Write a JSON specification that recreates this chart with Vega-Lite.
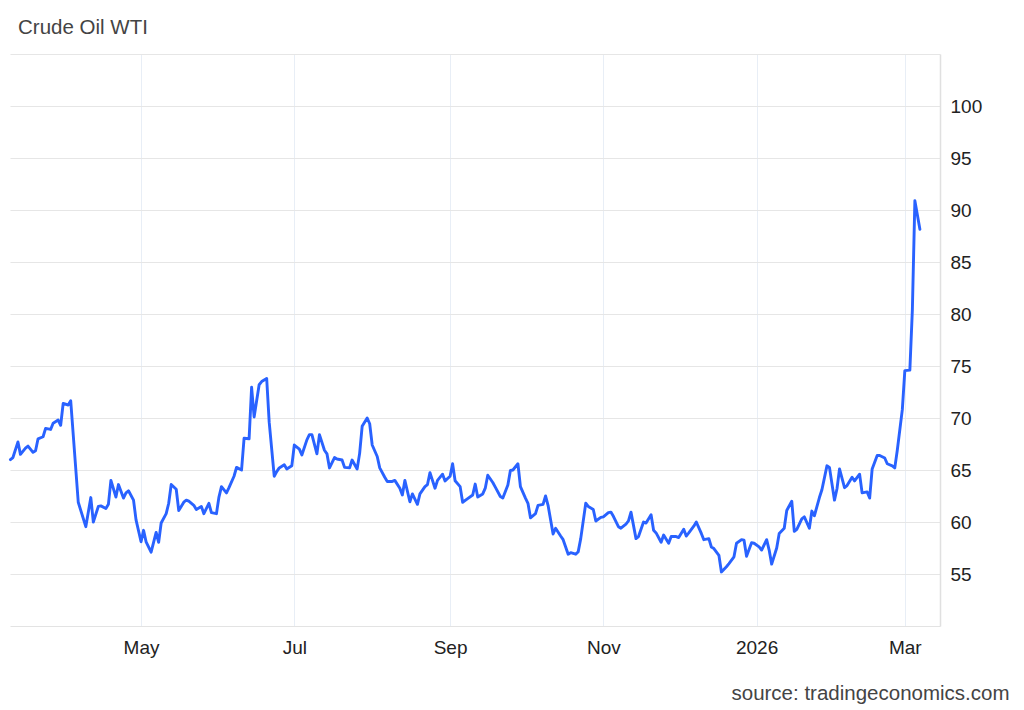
{
  "$schema": "https://vega.github.io/schema/vega-lite/v6.json",
  "width": 930,
  "height": 572,
  "autosize": {"type": "none"},
  "padding": {"left": 10, "top": 54, "right": 84, "bottom": 84},
  "background": "white",
  "config": {"view": {"stroke": null}, "font": "Liberation Sans"},
  "title": {"text": "Crude Oil WTI", "anchor": "start", "frame": "group", "dx": 8, "offset": 16, "fontSize": 20.5, "fontWeight": "normal", "color": "#444444", "font": "Liberation Sans"},
  "data": {"values": [
    {"date": "2025-03-10", "price": 66.0}, {"date": "2025-03-11", "price": 66.2}, {"date": "2025-03-13", "price": 67.7}, {"date": "2025-03-14", "price": 66.5},
    {"date": "2025-03-16", "price": 67.1}, {"date": "2025-03-17", "price": 67.3}, {"date": "2025-03-19", "price": 66.7}, {"date": "2025-03-20", "price": 66.85},
    {"date": "2025-03-21", "price": 68.0}, {"date": "2025-03-23", "price": 68.2}, {"date": "2025-03-24", "price": 69.0}, {"date": "2025-03-26", "price": 68.9},
    {"date": "2025-03-27", "price": 69.5}, {"date": "2025-03-29", "price": 69.8}, {"date": "2025-03-30", "price": 69.3}, {"date": "2025-03-31", "price": 71.4},
    {"date": "2025-04-02", "price": 71.25}, {"date": "2025-04-03", "price": 71.65}, {"date": "2025-04-06", "price": 61.9}, {"date": "2025-04-09", "price": 59.55},
    {"date": "2025-04-11", "price": 62.35}, {"date": "2025-04-12", "price": 60.0}, {"date": "2025-04-14", "price": 61.5}, {"date": "2025-04-15", "price": 61.55},
    {"date": "2025-04-17", "price": 61.3}, {"date": "2025-04-18", "price": 61.7}, {"date": "2025-04-19", "price": 64.0}, {"date": "2025-04-21", "price": 62.4},
    {"date": "2025-04-22", "price": 63.6}, {"date": "2025-04-24", "price": 62.3}, {"date": "2025-04-25", "price": 62.8}, {"date": "2025-04-26", "price": 63.0},
    {"date": "2025-04-28", "price": 62.1}, {"date": "2025-04-29", "price": 60.2}, {"date": "2025-05-01", "price": 58.1}, {"date": "2025-05-02", "price": 59.2},
    {"date": "2025-05-03", "price": 58.1}, {"date": "2025-05-05", "price": 57.1}, {"date": "2025-05-07", "price": 59.0}, {"date": "2025-05-08", "price": 58.05},
    {"date": "2025-05-09", "price": 59.9}, {"date": "2025-05-11", "price": 60.8}, {"date": "2025-05-12", "price": 61.8}, {"date": "2025-05-13", "price": 63.6},
    {"date": "2025-05-15", "price": 63.15}, {"date": "2025-05-16", "price": 61.1}, {"date": "2025-05-18", "price": 61.9}, {"date": "2025-05-19", "price": 62.1},
    {"date": "2025-05-20", "price": 62.0}, {"date": "2025-05-22", "price": 61.6}, {"date": "2025-05-23", "price": 61.2}, {"date": "2025-05-25", "price": 61.5},
    {"date": "2025-05-26", "price": 60.8}, {"date": "2025-05-28", "price": 61.8}, {"date": "2025-05-29", "price": 60.9}, {"date": "2025-05-31", "price": 60.8},
    {"date": "2025-06-01", "price": 62.4}, {"date": "2025-06-02", "price": 63.4}, {"date": "2025-06-04", "price": 62.8}, {"date": "2025-06-05", "price": 63.3},
    {"date": "2025-06-07", "price": 64.4}, {"date": "2025-06-08", "price": 65.25}, {"date": "2025-06-10", "price": 65.0}, {"date": "2025-06-11", "price": 68.05},
    {"date": "2025-06-13", "price": 68.0}, {"date": "2025-06-14", "price": 72.95}, {"date": "2025-06-15", "price": 70.1}, {"date": "2025-06-17", "price": 73.2},
    {"date": "2025-06-18", "price": 73.5}, {"date": "2025-06-20", "price": 73.8}, {"date": "2025-06-21", "price": 69.6}, {"date": "2025-06-23", "price": 64.4},
    {"date": "2025-06-24", "price": 64.85}, {"date": "2025-06-25", "price": 65.2}, {"date": "2025-06-27", "price": 65.5}, {"date": "2025-06-28", "price": 65.1},
    {"date": "2025-06-30", "price": 65.4}, {"date": "2025-07-01", "price": 67.4}, {"date": "2025-07-03", "price": 67.0}, {"date": "2025-07-04", "price": 66.45},
    {"date": "2025-07-06", "price": 67.9}, {"date": "2025-07-07", "price": 68.4}, {"date": "2025-07-08", "price": 68.4}, {"date": "2025-07-10", "price": 66.55},
    {"date": "2025-07-11", "price": 68.4}, {"date": "2025-07-13", "price": 66.9}, {"date": "2025-07-14", "price": 66.55}, {"date": "2025-07-15", "price": 65.2},
    {"date": "2025-07-17", "price": 66.2}, {"date": "2025-07-18", "price": 66.06}, {"date": "2025-07-20", "price": 65.96}, {"date": "2025-07-21", "price": 65.25},
    {"date": "2025-07-23", "price": 65.2}, {"date": "2025-07-24", "price": 65.96}, {"date": "2025-07-26", "price": 65.1}, {"date": "2025-07-27", "price": 66.6},
    {"date": "2025-07-28", "price": 69.2}, {"date": "2025-07-30", "price": 70.0}, {"date": "2025-07-31", "price": 69.45}, {"date": "2025-08-01", "price": 67.4},
    {"date": "2025-08-03", "price": 66.3}, {"date": "2025-08-04", "price": 65.2}, {"date": "2025-08-06", "price": 64.3}, {"date": "2025-08-07", "price": 63.9},
    {"date": "2025-08-09", "price": 63.9}, {"date": "2025-08-10", "price": 64.0}, {"date": "2025-08-12", "price": 63.25}, {"date": "2025-08-13", "price": 62.6},
    {"date": "2025-08-14", "price": 64.0}, {"date": "2025-08-16", "price": 61.95}, {"date": "2025-08-17", "price": 62.7}, {"date": "2025-08-19", "price": 61.7},
    {"date": "2025-08-20", "price": 62.7}, {"date": "2025-08-22", "price": 63.4}, {"date": "2025-08-23", "price": 63.6}, {"date": "2025-08-24", "price": 64.75},
    {"date": "2025-08-26", "price": 63.25}, {"date": "2025-08-27", "price": 64.0}, {"date": "2025-08-29", "price": 64.6}, {"date": "2025-08-30", "price": 63.95},
    {"date": "2025-09-01", "price": 64.4}, {"date": "2025-09-02", "price": 65.6}, {"date": "2025-09-03", "price": 63.97}, {"date": "2025-09-05", "price": 63.4},
    {"date": "2025-09-06", "price": 61.9}, {"date": "2025-09-08", "price": 62.25}, {"date": "2025-09-10", "price": 62.6}, {"date": "2025-09-11", "price": 63.65},
    {"date": "2025-09-12", "price": 62.4}, {"date": "2025-09-14", "price": 62.7}, {"date": "2025-09-15", "price": 63.25}, {"date": "2025-09-16", "price": 64.5},
    {"date": "2025-09-18", "price": 63.8}, {"date": "2025-09-19", "price": 63.35}, {"date": "2025-09-21", "price": 62.45}, {"date": "2025-09-22", "price": 62.3},
    {"date": "2025-09-24", "price": 63.55}, {"date": "2025-09-25", "price": 64.95}, {"date": "2025-09-26", "price": 65.0}, {"date": "2025-09-28", "price": 65.6},
    {"date": "2025-09-29", "price": 63.4}, {"date": "2025-10-01", "price": 62.3}, {"date": "2025-10-02", "price": 61.8}, {"date": "2025-10-03", "price": 60.4},
    {"date": "2025-10-05", "price": 60.8}, {"date": "2025-10-06", "price": 61.6}, {"date": "2025-10-08", "price": 61.7}, {"date": "2025-10-09", "price": 62.5},
    {"date": "2025-10-10", "price": 61.6}, {"date": "2025-10-12", "price": 58.85}, {"date": "2025-10-13", "price": 59.4}, {"date": "2025-10-15", "price": 58.65},
    {"date": "2025-10-16", "price": 58.3}, {"date": "2025-10-18", "price": 56.9}, {"date": "2025-10-19", "price": 57.05}, {"date": "2025-10-21", "price": 56.9},
    {"date": "2025-10-22", "price": 57.15}, {"date": "2025-10-23", "price": 58.4}, {"date": "2025-10-25", "price": 61.8}, {"date": "2025-10-26", "price": 61.5},
    {"date": "2025-10-28", "price": 61.2}, {"date": "2025-10-29", "price": 60.1}, {"date": "2025-10-31", "price": 60.45}, {"date": "2025-11-01", "price": 60.5},
    {"date": "2025-11-03", "price": 60.9}, {"date": "2025-11-04", "price": 60.95}, {"date": "2025-11-05", "price": 60.55}, {"date": "2025-11-07", "price": 59.55},
    {"date": "2025-11-08", "price": 59.4}, {"date": "2025-11-10", "price": 59.8}, {"date": "2025-11-11", "price": 60.1}, {"date": "2025-11-12", "price": 60.95},
    {"date": "2025-11-14", "price": 58.4}, {"date": "2025-11-15", "price": 58.6}, {"date": "2025-11-17", "price": 60.0}, {"date": "2025-11-18", "price": 59.9},
    {"date": "2025-11-20", "price": 60.7}, {"date": "2025-11-21", "price": 59.2}, {"date": "2025-11-22", "price": 58.95}, {"date": "2025-11-24", "price": 58.05},
    {"date": "2025-11-25", "price": 58.75}, {"date": "2025-11-27", "price": 57.96}, {"date": "2025-11-28", "price": 58.6}, {"date": "2025-11-30", "price": 58.6},
    {"date": "2025-12-01", "price": 58.5}, {"date": "2025-12-03", "price": 59.3}, {"date": "2025-12-04", "price": 58.65}, {"date": "2025-12-05", "price": 58.95},
    {"date": "2025-12-07", "price": 59.6}, {"date": "2025-12-08", "price": 60.0}, {"date": "2025-12-10", "price": 58.9}, {"date": "2025-12-11", "price": 58.3},
    {"date": "2025-12-13", "price": 58.4}, {"date": "2025-12-14", "price": 57.6}, {"date": "2025-12-15", "price": 57.45}, {"date": "2025-12-17", "price": 56.8},
    {"date": "2025-12-18", "price": 55.2}, {"date": "2025-12-20", "price": 55.7}, {"date": "2025-12-21", "price": 56.0}, {"date": "2025-12-23", "price": 56.65},
    {"date": "2025-12-24", "price": 57.96}, {"date": "2025-12-26", "price": 58.3}, {"date": "2025-12-27", "price": 58.25}, {"date": "2025-12-28", "price": 56.7},
    {"date": "2025-12-30", "price": 58.0}, {"date": "2025-12-31", "price": 57.96}, {"date": "2026-01-02", "price": 57.6}, {"date": "2026-01-03", "price": 57.3},
    {"date": "2026-01-05", "price": 58.3}, {"date": "2026-01-06", "price": 57.3}, {"date": "2026-01-07", "price": 55.95}, {"date": "2026-01-09", "price": 57.5},
    {"date": "2026-01-10", "price": 58.9}, {"date": "2026-01-12", "price": 59.4}, {"date": "2026-01-13", "price": 61.1}, {"date": "2026-01-15", "price": 62.0},
    {"date": "2026-01-16", "price": 59.1}, {"date": "2026-01-17", "price": 59.3}, {"date": "2026-01-19", "price": 60.3}, {"date": "2026-01-20", "price": 60.5},
    {"date": "2026-01-22", "price": 59.4}, {"date": "2026-01-23", "price": 61.05}, {"date": "2026-01-24", "price": 60.6}, {"date": "2026-01-26", "price": 62.35},
    {"date": "2026-01-27", "price": 63.1}, {"date": "2026-01-29", "price": 65.4}, {"date": "2026-01-30", "price": 65.25}, {"date": "2026-02-01", "price": 62.1},
    {"date": "2026-02-02", "price": 63.2}, {"date": "2026-02-03", "price": 65.1}, {"date": "2026-02-05", "price": 63.3}, {"date": "2026-02-06", "price": 63.5},
    {"date": "2026-02-08", "price": 64.3}, {"date": "2026-02-09", "price": 63.95}, {"date": "2026-02-11", "price": 64.6}, {"date": "2026-02-12", "price": 62.8},
    {"date": "2026-02-14", "price": 62.9}, {"date": "2026-02-15", "price": 62.3}, {"date": "2026-02-16", "price": 65.1}, {"date": "2026-02-18", "price": 66.4},
    {"date": "2026-02-19", "price": 66.4}, {"date": "2026-02-21", "price": 66.15}, {"date": "2026-02-22", "price": 65.6}, {"date": "2026-02-24", "price": 65.4},
    {"date": "2026-02-25", "price": 65.2}, {"date": "2026-02-26", "price": 66.9}, {"date": "2026-02-28", "price": 70.8}, {"date": "2026-03-01", "price": 74.55},
    {"date": "2026-03-03", "price": 74.6}, {"date": "2026-03-04", "price": 80.4}, {"date": "2026-03-05", "price": 90.9}, {"date": "2026-03-07", "price": 88.15}
  ]},
  "mark": {"type": "line", "color": "#2962ff", "strokeWidth": 2.9, "strokeJoin": "round", "strokeCap": "round"},
  "encoding": {
    "x": {
      "field": "date", "type": "temporal",
      "scale": {"type": "utc", "domain": [{"year": 2025, "month": 3, "date": 9, "hours": 20, "utc": true}, {"year": 2026, "month": 3, "date": 15, "utc": true}]},
      "axis": {
        "values": [
          {"year": 2025, "month": 5, "date": 1, "utc": true}, {"year": 2025, "month": 7, "date": 1, "utc": true},
          {"year": 2025, "month": 9, "date": 1, "utc": true}, {"year": 2025, "month": 11, "date": 1, "utc": true},
          {"year": 2026, "month": 1, "date": 1, "utc": true}, {"year": 2026, "month": 3, "date": 1, "utc": true}
        ],
        "labelExpr": "utcFormat(datum.value, utcmonth(datum.value) == 0 ? '%Y' : '%b')",
        "grid": true, "gridColor": "#e8eef6", "gridWidth": 1,
        "ticks": false, "domain": true, "domainColor": "#e3e3e3", "domainWidth": 1.2,
        "labelFont": "Liberation Sans", "labelFontSize": 19, "labelColor": "#222222", "labelPadding": 12,
        "title": "source: tradingeconomics.com", "titleFont": "Liberation Sans", "titleFontSize": 20.5, "titleFontWeight": "normal",
        "titleColor": "#444444", "titleAnchor": "end", "titleAlign": "right", "titleX": 999, "titleY": 73, "titleBaseline": "alphabetic"
      }
    },
    "y": {
      "field": "price", "type": "quantitative",
      "scale": {"domain": [50, 105], "nice": false, "zero": false},
      "axis": {
        "orient": "right", "values": [55, 60, 65, 70, 75, 80, 85, 90, 95, 100, 105],
        "labelExpr": "datum.value > 100 ? '' : datum.label",
        "grid": true, "gridColor": "#e6e6e6", "gridWidth": 1.2,
        "ticks": false, "domain": true, "domainColor": "#e0e0e0", "domainWidth": 1.5,
        "labelFont": "Liberation Sans", "labelFontSize": 19, "labelColor": "#222222", "labelPadding": 10,
        "title": null
      }
    }
  }
}
